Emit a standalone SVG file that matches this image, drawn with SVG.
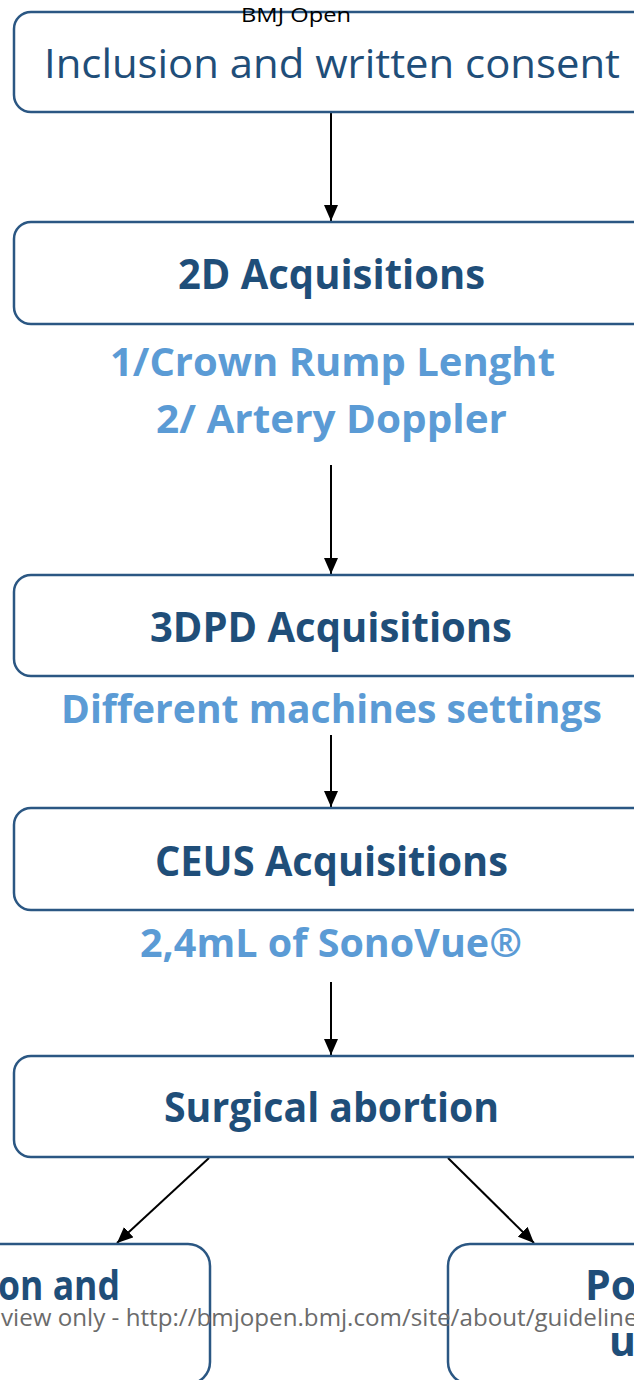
<svg xmlns="http://www.w3.org/2000/svg" width="634" height="1380" viewBox="0 0 634 1380">
  <style>
    .box { fill: #ffffff; stroke: #2b5783; stroke-width: 2.5; }
    .title { font-family: "Open Sans", "Noto Sans", sans-serif; font-weight: bold; fill: #1f4e79; font-size: 41px; text-anchor: middle; }
    .note { font-family: "Open Sans", "Noto Sans", sans-serif; font-weight: bold; fill: #5b9bd5; font-size: 39px; text-anchor: middle; }
    .conn { stroke: #000000; stroke-width: 2; fill: none; marker-end: url(#arrow); }
    .mark { font-family: "Open Sans", "Noto Sans", sans-serif; }
  </style>
  <defs>
    <!-- filled triangular arrowhead, tip at the end of the line -->
    <marker id="arrow" viewBox="0 0 16 14" refX="16" refY="7" markerWidth="16" markerHeight="14" markerUnits="userSpaceOnUse" orient="auto">
      <path d="M0,0 L16,7 L0,14 Z" fill="#000000"/>
    </marker>
  </defs>

  <rect width="634" height="1380" fill="#ffffff"/>

  <!-- flow connectors -->
  <g id="connectors">
    <line class="conn" x1="331" y1="112" x2="331" y2="221"/>
    <line class="conn" x1="331" y1="465" x2="331" y2="574"/>
    <line class="conn" x1="331" y1="735" x2="331" y2="807"/>
    <line class="conn" x1="331" y1="982" x2="331" y2="1055"/>
    <line class="conn" x1="209" y1="1158" x2="117" y2="1243"/>
    <line class="conn" x1="448" y1="1158" x2="534" y2="1243"/>
  </g>

  <g id="consent">
    <rect class="box" x="14" y="12" width="660" height="100" rx="17"/>
    <text x="332" y="78" textLength="576" lengthAdjust="spacingAndGlyphs" style="font-family:'Open Sans','Noto Sans',sans-serif;font-size:41px;fill:#1f4e79;text-anchor:middle">Inclusion and written consent</text>
  </g>

  <g id="acq2d">
    <rect class="box" x="14" y="222" width="660" height="102" rx="17"/>
    <text class="title" x="331.5" y="289" textLength="307" lengthAdjust="spacingAndGlyphs">2D Acquisitions</text>
    <text class="note" x="332.5" y="376" textLength="445" lengthAdjust="spacingAndGlyphs">1/Crown Rump Lenght</text>
    <text class="note" x="331.5" y="433" textLength="351" lengthAdjust="spacingAndGlyphs">2/ Artery Doppler</text>
  </g>

  <g id="acq3dpd">
    <rect class="box" x="14" y="575" width="660" height="101" rx="17"/>
    <text class="title" x="331" y="642" textLength="362" lengthAdjust="spacingAndGlyphs">3DPD Acquisitions</text>
    <text class="note" x="331.5" y="723" textLength="541" lengthAdjust="spacingAndGlyphs">Different machines settings</text>
  </g>

  <g id="ceus">
    <rect class="box" x="14" y="808" width="660" height="102" rx="17"/>
    <text class="title" x="331.5" y="876" textLength="353" lengthAdjust="spacingAndGlyphs">CEUS Acquisitions</text>
    <text class="note" x="331" y="957" textLength="382" lengthAdjust="spacingAndGlyphs">2,4mL of SonoVue®</text>
  </g>

  <g id="abortion">
    <rect class="box" x="14" y="1056" width="660" height="101" rx="17"/>
    <text class="title" x="331.5" y="1122" textLength="335" lengthAdjust="spacingAndGlyphs">Surgical abortion</text>
  </g>

  <g id="left-branch">
    <rect class="box" x="-220" y="1244" width="430" height="140" rx="22"/>
    <text class="title" x="120" y="1300" style="text-anchor:end" textLength="122" lengthAdjust="spacingAndGlyphs">on and</text>
  </g>

  <g id="right-branch">
    <rect class="box" x="448" y="1244" width="260" height="140" rx="22"/>
    <text class="title" x="585" y="1300" style="text-anchor:start">Po</text>
    <text class="title" x="609" y="1356" style="text-anchor:start">u</text>
  </g>

  <!-- page header and footer -->
  <text class="mark" x="296" y="22" font-size="20" fill="#000000" text-anchor="middle" textLength="110" lengthAdjust="spacingAndGlyphs">BMJ Open</text>
  <text class="mark" x="1" y="1326" font-size="24" fill="#6b6b6b" textLength="648" lengthAdjust="spacingAndGlyphs">view only - http://bmjopen.bmj.com/site/about/guidelines</text>
</svg>
